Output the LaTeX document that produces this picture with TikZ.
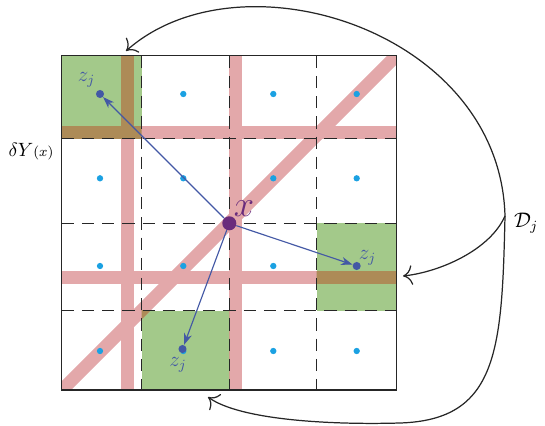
\documentclass[tikz,border=0pt]{standalone}
\usetikzlibrary{arrows.meta}
\definecolor{cellgreen}{HTML}{A3C98A}
\definecolor{bandpink}{HTML}{E3A8AA}
\definecolor{overbrown}{HTML}{AD8B57}
\definecolor{ctrblue}{HTML}{1BA1E2}
\definecolor{zblue}{HTML}{4358A5}
\definecolor{xpurple}{HTML}{6A2C7C}

% the thick strips through the grid, in one colour
\newcommand{\strips}[1]{%
  \foreach \bx in {127.7,235.5}
    \fill[#1] ({\bx-6.5},40) rectangle ({\bx+6.5},405);
  \foreach \by in {132.5,277}
    \fill[#1] (45,{\by-6.5}) rectangle (415,{\by+6.5});
  \draw[#1, line width=7.4pt] (40,412) -- (418,34);
}

\begin{document}
\begin{tikzpicture}[x=0.02cm, y=-0.02cm,
  cdot/.style={circle, fill=ctrblue, inner sep=0pt, minimum size=3.6pt},
  zdot/.style={circle, fill=zblue, inner sep=0pt, minimum size=4.6pt},
  xdot/.style={circle, fill=xpurple, inner sep=0pt, minimum size=8pt},
  dashline/.style={draw=black!85, line width=0.75pt, dash pattern=on 7pt off 4.5pt},
  link/.style={draw=zblue, line width=0.65pt,
    -{Stealth[length=6.5pt, width=4.6pt, inset=2pt]}},
  pointer/.style={draw=black!85, line width=0.7pt, -{To[scale=1.7]}},
  zlab/.style={text=zblue, font=\fontsize{12}{14}\selectfont},
]
\useasboundingbox (0,0) rectangle (545,426);

% Cells picked out
\fill[cellgreen] (61.7,55.7) rectangle (141.7,138.3);
\fill[cellgreen] (316.7,223.3) rectangle (396.5,310.7);
\fill[cellgreen] (141.7,310.7) rectangle (229.3,390);

% Strips, and where they cross the green cells
\begin{scope}
  \clip (61.7,55.7) rectangle (396.5,390);
  \strips{bandpink}
\end{scope}
\begin{scope}
  \clip (61.7,55.7) rectangle (141.7,138.3);
  \strips{overbrown}
\end{scope}
\begin{scope}
  \clip (316.7,223.3) rectangle (396.5,310.7);
  \strips{overbrown}
\end{scope}
\begin{scope}
  \clip (141.7,310.7) rectangle (229.3,390);
  \strips{overbrown}
\end{scope}

% Grid
\foreach \gx in {141.7,229.3,316.7}
  \draw[dashline] (\gx,55.7) -- (\gx,390);
\foreach \gy in {138.3,223.3,310.7}
  \draw[dashline] (61.7,\gy) -- (396.5,\gy);
\draw[black!85, line width=0.8pt] (61.7,55.7) rectangle (396.5,390);

% Cell centres
\foreach \cx in {100,183.3,273.3,356.7}
  \foreach \cy in {94,178.3,266,351}
    \node[cdot] at (\cx,\cy) {};

% Point x and its chosen centres
\node[zdot] (ztl) at (100,94) {};
\node[zdot] (zrt) at (356.7,266) {};
\node[zdot] (zbt) at (182.5,349) {};
\node[xdot] (xpt) at (229.3,223.3) {};

\draw[link] (xpt) -- (ztl);
\draw[link] (xpt) -- (zrt);
\draw[link] (xpt) -- (zbt);

\node[zlab] (ztllbl) at (86.5,80) {$z_j$};
\node[zlab] (zrtlbl) at (367.5,258) {$z_j$};
\node[zlab] (zbtlbl) at (178,365) {$z_j$};
\node[text=xpurple, font=\fontsize{20}{24}\selectfont] (xlbl) at (244,209) {$x$};
\node[font=\fontsize{11}{13}\selectfont] (dylbl) at (31,152)
  {$\delta Y$\fontsize{8.5}{10}\selectfont$(x)$};

% D_j and its three arrows
\node[font=\fontsize{12}{14}\selectfont] (dlbl) at (526,223) {$\mathcal{D}_j$};
\coordinate (hub) at (505,216);
\coordinate (tltip) at (126,51);
\coordinate (rttip) at (403,276);
\coordinate (bttip) at (208,397);

\draw[pointer] (hub) .. controls (500,30) and (240,-50) .. (tltip);
\draw[pointer] (hub) .. controls (490,250) and (440,272) .. (rttip);
\draw[pointer] (hub) .. controls (502,350) and (498,420) .. (400,423)
  .. controls (330,425) and (240,420) .. (bttip);
\end{tikzpicture}
\end{document}
